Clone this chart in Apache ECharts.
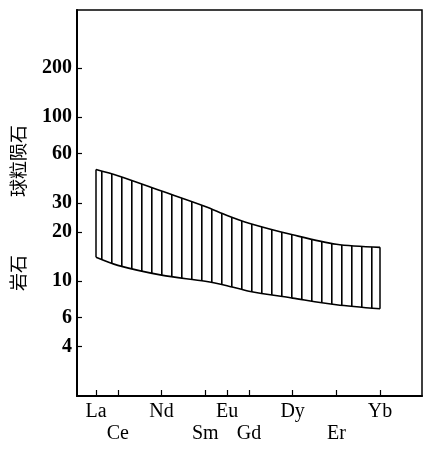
<!DOCTYPE html>
<html>
<head>
<meta charset="utf-8">
<script src="https://cdn.jsdelivr.net/npm/echarts@6/dist/echarts.min.js"></script>
<style>
  html, body { margin: 0; padding: 0; background: #fff; }
  #chart { width: 425px; height: 449px; }
</style>
</head>
<body>
<div id="chart"></div>
<script>
// REE elements shown on the x axis and their place in the La..Lu sequence
const elements = ['La', 'Ce', 'Nd', 'Sm', 'Eu', 'Gd', 'Dy', 'Er', 'Yb'];
const reePosition = [0, 1, 3, 5, 6, 7, 9, 11, 13];
const lowerRow = ['Ce', 'Sm', 'Gd', 'Er'];

// rock / chondrite, envelope of the field
const upperValues = [48, 44, 35.5, 28.6, 25.2, 22.6, 19.2, 16.8, 16.1];
const lowerValues = [14, 12.5, 10.9, 10.0, 9.4, 8.7, 7.9, 7.2, 6.8];

const yTicks = [4, 6, 10, 20, 30, 60, 100, 200];

const upperData = reePosition.map((x, i) => [x, upperValues[i]]);
const lowerData = reePosition.map((x, i) => [x, lowerValues[i]]);

// vertical hatch for the band
const hatch = document.createElement('canvas');
hatch.width = 10;
hatch.height = 4;
const hctx = hatch.getContext('2d');
hctx.fillStyle = '#000';
hctx.fillRect(1, 0, 1.6, 4);

const last = reePosition.length - 1;
const serif = '"Liberation Serif", "DejaVu Serif", serif';

const chart = echarts.init(document.getElementById('chart'));
chart.setOption({
    animation: false,
    backgroundColor: '#fff',
    grid: {
        left: 77, right: 3, top: 10, bottom: 53,
        show: true, borderColor: '#000', borderWidth: 1.5,
        containLabel: false, outerBoundsMode: 'none'
    },
    xAxis: {
        type: 'value',
        min: -0.87,
        max: 14.92,
        z: 10,
        splitLine: {show: false},
        axisLine: {onZero: false, lineStyle: {color: '#000', width: 2}},
        axisTick: {inside: true, length: 6, lineStyle: {color: '#000', width: 1.2},
            customValues: reePosition},
        axisLabel: {
            customValues: reePosition,
            margin: 5,
            color: '#000',
            fontFamily: serif,
            fontSize: 20,
            lineHeight: 22,
            formatter: function (v) {
                const name = elements[reePosition.indexOf(v)];
                return lowerRow.indexOf(name) >= 0 ? '\n' + name : name;
            }
        }
    },
    yAxis: {
        type: 'log',
        logBase: 10,
        min: 2,
        max: 450,
        z: 10,
        splitLine: {show: false},
        minorTick: {show: false},
        axisLine: {onZero: false, lineStyle: {color: '#000', width: 2}},
        axisTick: {inside: true, length: 5, lineStyle: {color: '#000', width: 1.2},
            customValues: yTicks},
        axisLabel: {
            customValues: yTicks,
            margin: 5,
            color: '#000',
            fontFamily: serif,
            fontWeight: 'bold',
            fontSize: 20
        }
    },
    graphic: [
        {type: 'text', x: 18, y: 273, rotation: Math.PI / 2,
            style: {text: '岩石', font: '18px "Noto Sans CJK SC"', fill: '#000',
                align: 'center', verticalAlign: 'middle'}},
        {type: 'text', x: 18, y: 161, rotation: Math.PI / 2,
            style: {text: '球粒陨石', font: '18px "Noto Sans CJK SC"', fill: '#000',
                align: 'center', verticalAlign: 'middle'}}
    ],
    series: [
        {
            // upper envelope, hatched down to the axis
            type: 'line',
            data: upperData,
            smooth: 0.3,
            symbol: 'none',
            z: 2,
            lineStyle: {color: '#000', width: 1.6},
            areaStyle: {color: {image: hatch, repeat: 'repeat'}, opacity: 1, origin: 'start'},
            markLine: {
                silent: true,
                symbol: 'none',
                label: {show: false},
                lineStyle: {color: '#000', width: 1.5, type: 'solid'},
                data: [
                    [{coord: [reePosition[0], lowerValues[0]]}, {coord: [reePosition[0], upperValues[0]]}],
                    [{coord: [reePosition[last], lowerValues[last]]}, {coord: [reePosition[last], upperValues[last]]}]
                ]
            }
        },
        {
            // lower envelope, blanks the hatch below it
            type: 'line',
            data: lowerData,
            smooth: 0.3,
            symbol: 'none',
            z: 3,
            lineStyle: {color: '#000', width: 1.6},
            areaStyle: {color: '#fff', opacity: 1, origin: 'start'}
        }
    ]
});
</script>
</body>
</html>
